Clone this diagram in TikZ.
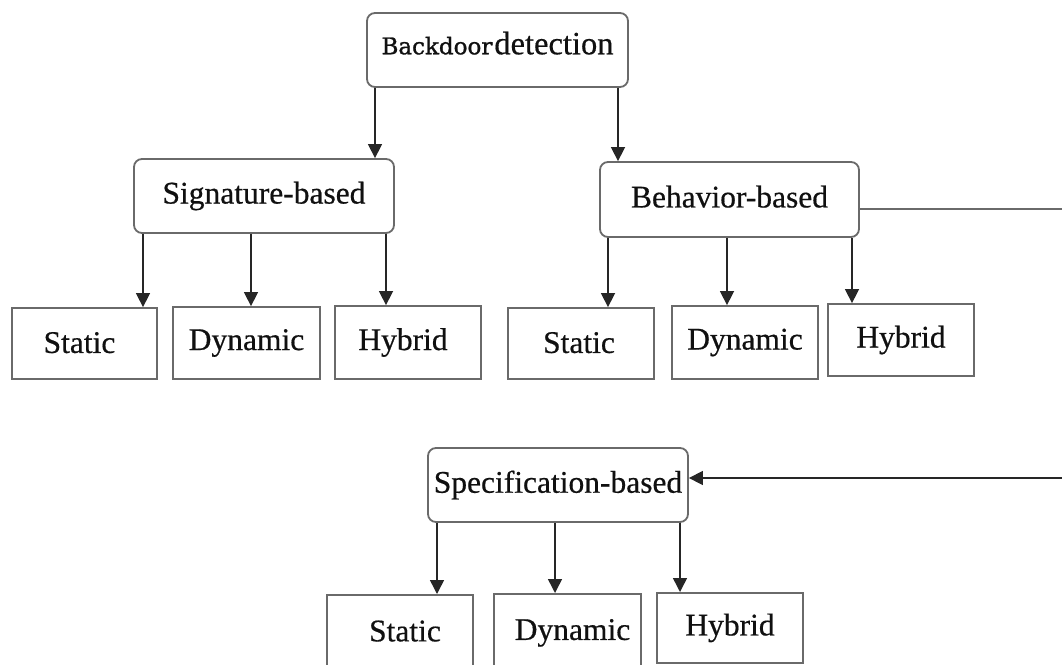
\documentclass[tikz,border=0pt]{standalone}
\usepackage{fontspec}
\setmainfont{Liberation Serif}[FakeBold=0.5]
\newfontfamily\bdfont{DejaVu Serif}[FakeBold=1.2]
\usetikzlibrary{arrows.meta}
\definecolor{boxline}{HTML}{6A6A6A}
\definecolor{arrowline}{HTML}{262626}
\definecolor{inktext}{HTML}{101010}
\tikzset{
  base/.style={draw=boxline, line width=1.8pt, fill=white, text=inktext,
    font=\fontsize{31.5}{36}\selectfont, inner sep=0pt},
  groupbox/.style={base, rounded corners=8pt},
  leafbox/.style={base},
  arr/.style={draw=arrowline, line width=1.5pt,
    -{Triangle[width=14pt,length=14pt]}},
  feed/.style={draw=boxline, line width=1.8pt},
}
\begin{document}
\begin{tikzpicture}[x=1pt, y=-1pt]
  \useasboundingbox (0,0) rectangle (1062,664);
  \clip (0,0) rectangle (1062,664);

  % root
  \node[groupbox, minimum width=261pt, minimum height=74pt] (root) at (497.5,50)
    {\rule[-14pt]{0pt}{0pt}{\bdfont\fontsize{23}{28}\selectfont Backdoor}\kern2pt{\fontsize{32.5}{36}\selectfont detection}};

  % second level
  \node[groupbox, minimum width=260pt, minimum height=74pt] (sig) at (264,196) {\rule[-4pt]{0pt}{0pt}Signature-based};
  \node[groupbox, minimum width=259pt, minimum height=75pt] (beh) at (729.5,199.5) {\rule[-6pt]{0pt}{0pt}Behavior-based};
  \node[groupbox, minimum width=260pt, minimum height=74pt] (spec) at (558,485) {\rule[-2pt]{0pt}{0pt}Specification-based};

  % leaves under Signature-based
  \node[leafbox, minimum width=145pt, minimum height=71pt] (s1) at (84.5,343.5) {\rule[-2pt]{0pt}{0pt}Static\kern10pt};
  \node[leafbox, minimum width=147pt, minimum height=72pt] (d1) at (246.5,343) {\rule[-2pt]{0pt}{0pt}Dynamic};
  \node[leafbox, minimum width=146pt, minimum height=73pt] (h1) at (408,342.5) {\rule[-2pt]{0pt}{0pt}Hybrid\kern10pt};

  % leaves under Behavior-based
  \node[leafbox, minimum width=146pt, minimum height=71pt] (s2) at (581,343.5) {\rule[-2pt]{0pt}{0pt}Static\kern4pt};
  \node[leafbox, minimum width=146pt, minimum height=73pt] (d2) at (745,342.5) {\rule[-2pt]{0pt}{0pt}Dynamic};
  \node[leafbox, minimum width=146pt, minimum height=72pt] (h2) at (901,340) {\rule[-2pt]{0pt}{0pt}Hybrid};

  % leaves under Specification-based
  \node[leafbox, minimum width=146pt, minimum height=78pt, anchor=north] (s3) at (400,594) {\raisebox{6pt}{\kern10pt Static}};
  \node[leafbox, minimum width=147pt, minimum height=78pt, anchor=north] (d3) at (567.5,593) {\raisebox{6pt}{\kern10pt Dynamic}};
  \node[leafbox, minimum width=146pt, minimum height=70pt, anchor=north] (h3) at (730,592) {\rule[-4pt]{0pt}{0pt}Hybrid};

  % root to second level
  \draw[arr] (375,0 |- root.south) -- (375,0 |- sig.north);
  \draw[arr] (618,0 |- root.south) -- (618,0 |- beh.north);

  % Signature-based to its kinds
  \draw[arr] (143,0 |- sig.south) -- (143,0 |- s1.north);
  \draw[arr] (251,0 |- sig.south) -- (251,0 |- d1.north);
  \draw[arr] (386,0 |- sig.south) -- (386,0 |- h1.north);

  % Behavior-based to its kinds
  \draw[arr] (608,0 |- beh.south) -- (608,0 |- s2.north);
  \draw[arr] (727,0 |- beh.south) -- (727,0 |- d2.north);
  \draw[arr] (852,0 |- beh.south) -- (852,0 |- h2.north);

  % Specification-based to its kinds
  \draw[arr] (437,0 |- spec.south) -- (437,0 |- s3.north);
  \draw[arr] (555,0 |- spec.south) -- (555,0 |- d3.north);
  \draw[arr] (680,0 |- spec.south) -- (680,0 |- h3.north);

  % Behavior-based feeds Specification-based around the right side
  \coordinate (bend1) at (1080,209);
  \coordinate (bend2) at (1080,478);
  \draw[feed] (beh.east |- bend1) -- (bend1) -- (bend2);
  \draw[arr] (bend2) -- (spec.east |- bend2);
\end{tikzpicture}
\end{document}
